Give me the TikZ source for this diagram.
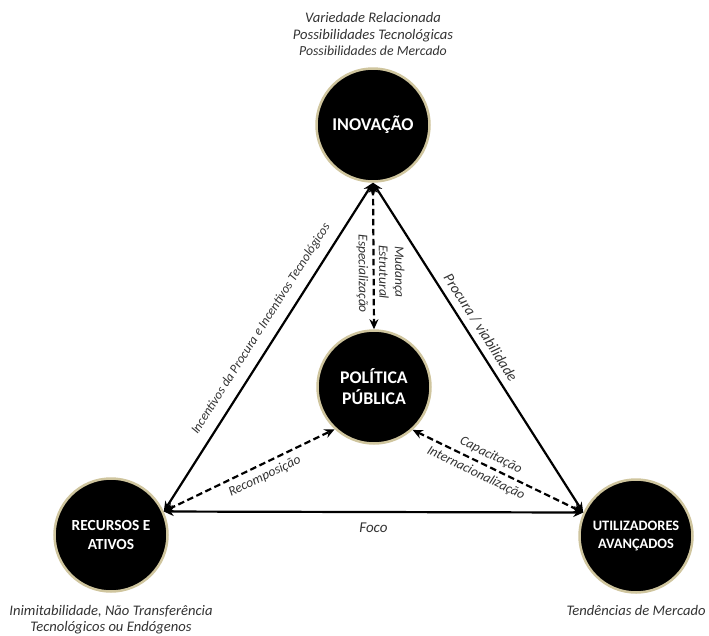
\documentclass[tikz,border=0pt]{standalone}
\usepackage{fontspec}
\setmainfont{Carlito}
\usetikzlibrary{arrows.meta,positioning}
\definecolor{ringgold}{HTML}{CFC59E}
\definecolor{notegray}{HTML}{333333}

\begin{document}
\begin{tikzpicture}[x=1pt, y=-1pt,
    hub/.style = {circle, fill=black, draw=ringgold, line width=2.5pt,
      minimum size=113pt, inner sep=0pt, align=center, text=white,
      font=\fontsize{#1}{19}\selectfont\bfseries},
    hub/.default = 16,
    note/.style = {align=center, text=notegray,
      font=\fontsize{14.6}{16.5}\selectfont\itshape},
    tag/.style = {text=notegray, sloped, align=center,
      font=\fontsize{#1}{16}\selectfont\itshape},
    tag/.default = 13.5,
    link/.style = {line width=2.2pt,
      {Stealth[length=10pt,width=9pt]}-{Stealth[length=10pt,width=9pt]}},
    dlink/.style = {link, dash pattern=on 6.5pt off 3.5pt}
    ]
    \useasboundingbox (0,0) rectangle (709,635);
    \node[hub=18] (inov) at (373,125) {INOVAÇÃO};
    \node[hub=17.8] (pol) at (374,387) {POLÍTICA\\[2pt]PÚBLICA};
    \node[hub=15.4] (rec) at (111,535) {RECURSOS E\\ATIVOS};
    \node[hub=14.4] (util) at (636,536) {UTILIZADORES\\[-1pt]AVANÇADOS};

    \node[note, above=8pt of inov] (inovnote) {Variedade Relacionada\\
      Possibilidades Tecnológicas\\
      {\fontsize{13.8}{16.5}\selectfont Possibilidades de Mercado}};
    \node[note, below=9pt of rec] (recnote) {Inimitabilidade, Não Transferência\\
      Tecnológicos ou Endógenos};
    \node[note, below=8pt of util] (utilnote) {Tendências de Mercado};

    \draw[link] (rec.24) -- node[tag=13, above=6pt, pos=0.53]
      {Incentivos da Procura e Incentivos Tecnológicos} (inov.south);
    \draw[link] (inov.south) -- node[tag=14.8, above=3pt, pos=0.46]
      {Procura / viabilidade} (util.156);
    \draw[link] (rec.24) -- node[tag=15, below=6pt] {Foco} (util.156);
    \draw[dlink] (inov.south) -- node[tag, above=1pt, pos=0.61] {Mudança\\Estrutural}
      node[tag, below=1pt, pos=0.62] {Especialização} (pol.north);
    \draw[dlink] (rec.24) -- node[tag, below=2pt, pos=0.56] {Recomposição} (pol.227);
    \draw[dlink] (pol.312) -- node[tag, above=1pt, pos=0.43] {Capacitação}
      node[tag, below=1pt, pos=0.4] {Internacionalização} (util.156);
\end{tikzpicture}
\end{document}
